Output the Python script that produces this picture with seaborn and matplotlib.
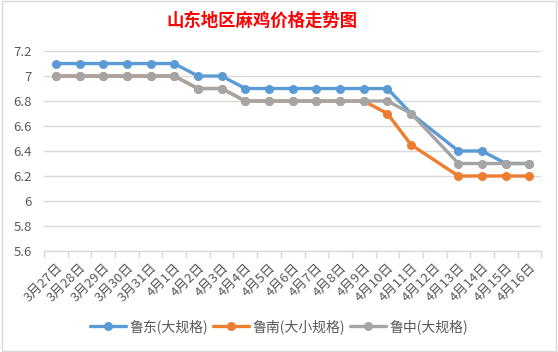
import numpy as np
import pandas as pd
import matplotlib
matplotlib.use("Agg")
import matplotlib.pyplot as plt
import seaborn as sns

categories = ["3月27日", "3月28日", "3月29日", "3月30日", "3月31日",
              "4月1日", "4月2日", "4月3日", "4月4日", "4月5日", "4月6日",
              "4月7日", "4月8日", "4月9日", "4月10日", "4月11日", "4月12日",
              "4月13日", "4月14日", "4月15日", "4月16日"]
nan = np.nan
ludong = [7.1, 7.1, 7.1, 7.1, 7.1, 7.1, 7.0, 7.0, 6.9, 6.9, 6.9, 6.9, 6.9, 6.9, 6.9,
          6.7, nan, 6.4, 6.4, 6.3, 6.3]
lunan = [7.0, 7.0, 7.0, 7.0, 7.0, 7.0, 6.9, 6.9, 6.8, 6.8, 6.8, 6.8, 6.8, 6.8, 6.7,
         6.45, nan, 6.2, 6.2, 6.2, 6.2]
luzhong = [7.0, 7.0, 7.0, 7.0, 7.0, 7.0, 6.9, 6.9, 6.8, 6.8, 6.8, 6.8, 6.8, 6.8, 6.8,
           6.7, nan, 6.3, 6.3, 6.3, 6.3]
series_names = ["鲁东(大规格)", "鲁南(大小规格)", "鲁中(大规格)"]
yticks = [5.6, 5.8, 6.0, 6.2, 6.4, 6.6, 6.8, 7.0, 7.2]
ytick_labels = ["5.6", "5.8", "6", "6.2", "6.4", "6.6", "6.8", "7", "7.2"]
title = "山东地区麻鸡价格走势图"

colors = ["#5B9BD5", "#ED7D31", "#A5A5A5"]

sns.set_theme(style="white")
plt.rcParams['font.family'] = ['Noto Sans CJK SC', 'DejaVu Sans']

fig = plt.figure(figsize=(5.58, 3.52), dpi=100)
ax = fig.add_axes([0.079, 0.287, 0.891, 0.568])

rows = []
for name, vals in zip(series_names, [ludong, lunan, luzhong]):
    for i, v in enumerate(vals):
        rows.append({"idx": i, "series": name, "price": v})
df = pd.DataFrame(rows).dropna()

for name, c in zip(series_names, colors):
    sub = df[df["series"] == name]
    sns.lineplot(data=sub, x="idx", y="price", color=c, marker="o",
                 markersize=6.5, markeredgewidth=0, linewidth=2.4,
                 label=name, ax=ax, sort=True)

ax.set_xlim(-0.5, len(categories) - 0.5)
ax.set_ylim(5.6, 7.2)
ax.set_yticks(yticks)
ax.set_yticklabels(ytick_labels, fontsize=9.5, color="#595959")
ax.yaxis.grid(True, color="#D9D9D9", linewidth=1)
ax.set_xticks(range(len(categories)))
ax.set_xticklabels(categories, rotation=45, ha="right", rotation_mode="anchor",
                   fontsize=9.5, color="#595959")
ax.set_xticks(np.arange(-0.5, len(categories), 1), minor=True)
ax.tick_params(axis="x", which="major", length=0, pad=7)
ax.tick_params(axis="x", which="minor", length=5, color="#D9D9D9", width=1, bottom=True)
ax.tick_params(axis="y", length=0, pad=9)
ax.set_xlabel("")
ax.set_ylabel("")
for s in ["top", "right", "left"]:
    ax.spines[s].set_visible(False)
ax.spines["bottom"].set_color("#D9D9D9")
ax.spines["bottom"].set_linewidth(1)

fig.text(0.47, 0.94, title, ha="center", va="center", color="red",
         fontsize=12.5, fontweight="bold")

ax.legend(loc="center", bbox_to_anchor=(0.5, 0.072), bbox_transform=fig.transFigure,
          ncol=3, frameon=False, fontsize=10, handlelength=2.6, columnspacing=0.3,
          handletextpad=0.3, labelcolor="#595959")

fig.patches.append(plt.Rectangle((0.004, 0.004), 0.992, 0.992, transform=fig.transFigure,
                                 fill=False, edgecolor="#D9D9D9", linewidth=1))
fig.savefig("out.png", dpi=100)
